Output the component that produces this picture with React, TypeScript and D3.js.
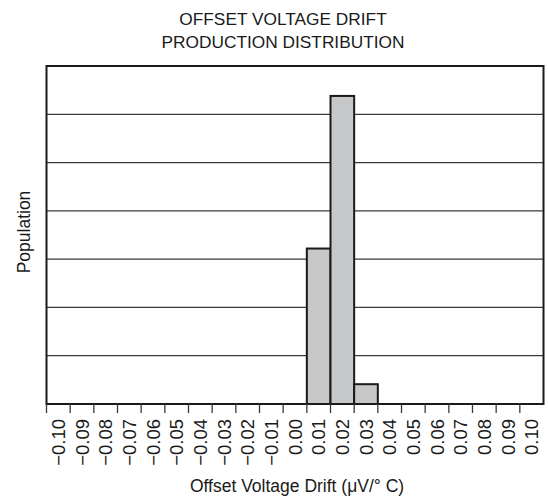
import * as React from 'react'
import {useRef, useEffect} from 'react'
import * as d3 from 'd3'

// bins are 0.01 wide, labelled by their left edge
const binStarts = [0.01, 0.02, 0.03]
const binCounts = [3.22, 6.38, 0.41]
const tickValues = d3.range(-10, 11).map((v) => v / 100)
const titleLines = ['OFFSET VOLTAGE DRIFT', 'PRODUCTION DISTRIBUTION']
const gridLevels = [1, 2, 3, 4, 5, 6]

const width = 548
const height = 502
const margin = {top: 66, right: 4.5, bottom: 98, left: 46.5}

const App = () => {
    const chartRef = useRef(null)

    useEffect(() => {
        const svg = d3.select(chartRef.current)
        svg.selectAll('*').remove()

        const font = '"Liberation Sans", Arial, Helvetica, sans-serif'

        const xScale = d3.scaleLinear()
                        .domain([-0.10, 0.11])
                        .range([margin.left, width - margin.right])

        const yScale = d3.scaleLinear()
                        .domain([0, 7])
                        .range([height - margin.bottom, margin.top])

        const bottom = height - margin.bottom

        // gridlines
        svg.selectAll('line.grid')
            .data(gridLevels)
            .enter()
            .append('line')
            .attr('class', 'grid')
            .attr('x1', margin.left)
            .attr('x2', width - margin.right)
            .attr('y1', d => yScale(d))
            .attr('y2', d => yScale(d))
            .attr('stroke', '#3a3a3a')
            .attr('stroke-width', 1.3)

        // bars
        svg.selectAll('rect.bar')
            .data(binStarts.map((s, i) => ({start: s, count: binCounts[i]})))
            .enter()
            .append('rect')
            .attr('class', 'bar')
            .attr('x', d => xScale(d.start))
            .attr('y', d => yScale(d.count))
            .attr('width', d => xScale(d.start + 0.01) - xScale(d.start))
            .attr('height', d => bottom - yScale(d.count))
            .attr('fill', '#c6c7c9')
            .attr('stroke', '#1a1a1a')
            .attr('stroke-width', 2)

        // frame
        svg.append('rect')
            .attr('x', margin.left)
            .attr('y', margin.top)
            .attr('width', width - margin.left - margin.right)
            .attr('height', bottom - margin.top)
            .attr('fill', 'none')
            .attr('stroke', '#1a1a1a')
            .attr('stroke-width', 2)

        // tick marks
        svg.selectAll('line.tick')
            .data(tickValues)
            .enter()
            .append('line')
            .attr('class', 'tick')
            .attr('x1', d => xScale(d))
            .attr('x2', d => xScale(d))
            .attr('y1', bottom)
            .attr('y2', bottom + 9)
            .attr('stroke', '#3a3a3a')
            .attr('stroke-width', 1.3)

        // tick labels at bin centres, rotated
        svg.selectAll('text.tickLabel')
            .data(tickValues)
            .enter()
            .append('text')
            .attr('class', 'tickLabel')
            .attr('transform', d => `translate(${xScale(d + 0.005) + 6.6},${bottom + 15}) rotate(-90)`)
            .style('font-family', font)
            .style('font-size', '18.5px')
            .style('text-anchor', 'end')
            .attr('fill', '#1a1a1a')
            .text(d => d3.format('.2f')(d).replace('-', '\u2212'))

        // title
        svg.selectAll('text.title')
            .data(titleLines)
            .enter()
            .append('text')
            .attr('class', 'title')
            .attr('x', 283)
            .attr('y', (d, i) => 25 + i * 23)
            .style('font-family', font)
            .style('font-size', '17.3px')
            .style('text-anchor', 'middle')
            .attr('fill', '#1a1a1a')
            .text(d => d)

        // axis titles
        svg.append('text')
            .attr('x', 297)
            .attr('y', 492)
            .style('font-family', font)
            .style('font-size', '17.5px')
            .style('text-anchor', 'middle')
            .attr('fill', '#1a1a1a')
            .text('Offset Voltage Drift (\u03BCV/\u00B0 C)')

        svg.append('text')
            .attr('transform', 'translate(30,232) rotate(-90)')
            .style('font-family', font)
            .style('font-size', '17.5px')
            .style('text-anchor', 'middle')
            .attr('fill', '#1a1a1a')
            .text('Population')
    }, [])

    return (
        <svg ref={chartRef} width={width} height={height}
             style={{position: 'absolute', left: 0, top: 0, background: '#fff'}}></svg>
    )
}

export default App
